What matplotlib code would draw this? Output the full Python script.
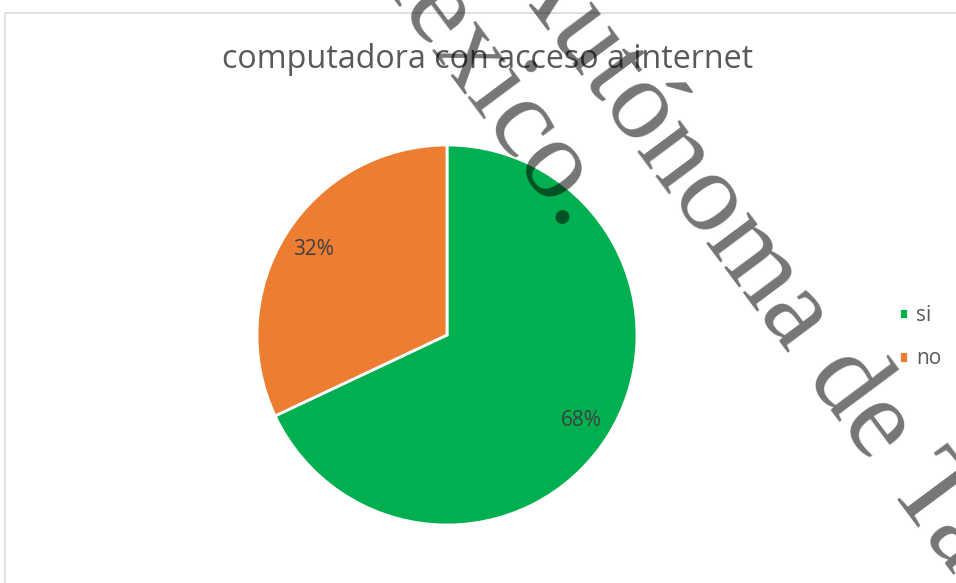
import matplotlib.pyplot as plt
from matplotlib.patches import Rectangle

# datos
categories = ["si", "no"]
values = [68, 32]
colors = ["#00B050", "#ED7D31"]
title = "computadora con acceso a internet"
watermark_1 = "Autónoma de Tabasco"
watermark_2 = "México."

W, H = 956, 583


def px(x, y):
    # pixel (origen arriba-izquierda) -> fraccion de figura
    return x / W, 1 - y / H


fig = plt.figure(figsize=(W / 100, H / 100), dpi=100)
fig.patch.set_facecolor("white")

# marco del grafico
x0, y0 = px(5, 13)
fig.patches.append(Rectangle((x0, -0.1), 1.2, y0 + 0.1, transform=fig.transFigure,
                             fill=False, edgecolor="#D9D9D9", linewidth=1.2))

# pastel
cx, cy, r = 447, 335, 190
left, bottom = px(cx - r, cy + r)
ax = fig.add_axes([left, bottom, 2 * r / W, 2 * r / H])
wedges, _, autotexts = ax.pie(values, colors=colors, startangle=90, counterclock=False,
                              autopct="%1.0f%%", pctdistance=0.835,
                              wedgeprops=dict(edgecolor="white", linewidth=2),
                              textprops=dict(color="#404040", fontsize=15, family="Open Sans"))
ax.set_xlim(-1, 1)
ax.set_ylim(-1, 1)
ax.set_aspect("equal")
ax.axis("off")

fig.text(*px(488, 59), title, ha="center", va="center", fontsize=23.2,
         family="Open Sans", color="#595959")

fig.legend(wedges, categories, loc="center left", bbox_to_anchor=px(880, 337),
           frameon=False, handlelength=0.45, handleheight=0.45, handletextpad=0.4,
           labelspacing=1.1, prop=dict(family="Open Sans", size=15), labelcolor="#595959")

# marca de agua
wm = dict(rotation=-53.3, rotation_mode="anchor", ha="left", va="baseline",
          fontsize=82.8, family="Liberation Serif", color="black", alpha=0.54)
fig.text(*px(498, -36), watermark_1, **wm)
fig.text(*px(338, -70), watermark_2, **wm)

fig.savefig("out.png", dpi=100)
